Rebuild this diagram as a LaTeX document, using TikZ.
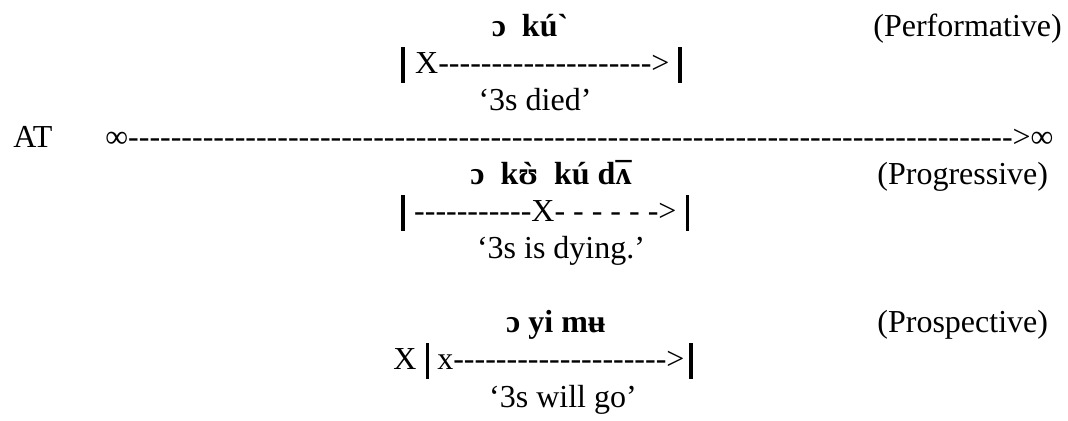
\documentclass[tikz,border=0pt]{standalone}
\usepackage{fontspec}
\setmainfont{Liberation Serif}[Ligatures=TeXOff]
\usetikzlibrary{calc}

\newcommand{\tbar}{\rule[-4.5pt]{1.9pt}{18pt}}

\begin{document}
\begin{tikzpicture}[x=0.5pt,y=-0.5pt,
  every node/.style={inner sep=0pt, font=\fontsize{16}{18}\selectfont},
  ipa/.style={anchor=base, font=\fontsize{16}{18}\selectfont\bfseries},
  aspect/.style={anchor=base west},
  timeline/.style={anchor=base west},
  gloss/.style={anchor=base}]
  \useasboundingbox (0,0) rectangle (1068,421);

  % Performative
  \node[ipa] (perfipa) at (530,37) {ɔ\ \ kú`};
  \node[aspect] (perflabel) at (873,37) {(Performative)};
  \node[timeline] (perfline) at (401,74)
    {\tbar\hspace{5pt}X-------------------->\hspace{4.5pt}\tbar};
  \node[gloss] (perfgloss) at (535,111) {‘3s died’};

  % Aktionsart line
  \node[aspect] (at) at (13,148) {AT};
  \node[timeline] (atline) at (105,148)
    {∞----------------------------------------------------------------------------------->∞};

  % Progressive
  \node[ipa] (progipa) at (551,185) {ɔ\ \ k\accent"60 ʊ\ \ kú d\accent"AF ʌ};
  \node[aspect] (proglabel) at (877,185) {(Progressive)};
  \node[timeline] (progline) at (401,222)
    {\tbar\hspace{4.5pt}-----------X- - - - - ->\hspace{4.5pt}\tbar};
  \node[gloss] (proggloss) at (561,259) {‘3s is dying.’};

  % Prospective
  \node[ipa] (prospipa) at (556,333) {ɔ yi mʉ};
  \node[aspect] (prosplabel) at (877,333) {(Prospective)};
  \node[timeline] (prospline) at (393,370)
    {X\hspace{4.5pt}\tbar\hspace{4pt}x-------------------->\hspace{2.5pt}\tbar};
  \node[gloss] (prospgloss) at (563,407) {‘3s will go’};
\end{tikzpicture}
\end{document}
